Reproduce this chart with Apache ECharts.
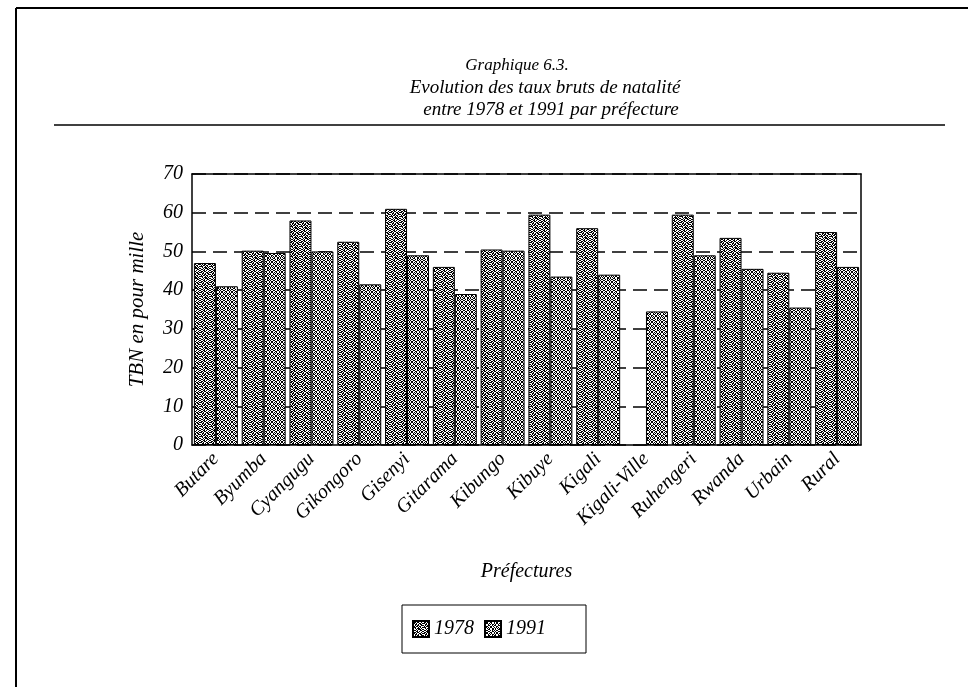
<!DOCTYPE html>
<html>
<head>
<meta charset="utf-8">
<script src="https://cdn.jsdelivr.net/npm/echarts@6/dist/echarts.min.js"></script>
<style>
  html, body { margin: 0; padding: 0; background: #fff; }
  #chart { width: 968px; height: 687px; }
</style>
</head>
<body>
<div id="chart"></div>
<script>
// Préfectures du Rwanda, taux bruts de natalité (TBN, pour mille)
const prefectures = ['Butare', 'Byumba', 'Cyangugu', 'Gikongoro', 'Gisenyi', 'Gitarama', 'Kibungo',
  'Kibuye', 'Kigali', 'Kigali-Ville', 'Ruhengeri', 'Rwanda', 'Urbain', 'Rural'];
const tbn1978 = [47, 50.2, 58, 52.5, 61, 46, 50.5, 59.5, 56, null, 59.5, 53.5, 44.5, 55];
const tbn1991 = [41, 49.6, 50, 41.5, 49, 39, 50.2, 43.5, 44, 34.5, 49, 45.5, 35.5, 46];
const seriesNames = ['1978', '1991'];
const yTicks = { min: 0, max: 70, step: 10 };

// Dithered fill tiles for the bars (1 = black pixel)
function makeTile(rows) {
  const c = document.createElement('canvas');
  c.width = rows[0].length; c.height = rows.length;
  const g = c.getContext('2d');
  g.fillStyle = '#fff'; g.fillRect(0, 0, c.width, c.height);
  g.fillStyle = '#000';
  rows.forEach((r, y) => {
    for (let x = 0; x < r.length; x++) if (r[x] === '1') g.fillRect(x, y, 1, 1);
  });
  return c;
}
const tileA = makeTile([
  '1001101001',
  '0110110010',
  '1101001101',
  '0011010110',
  '1010110011',
  '0101101100',
  '1110010101',
  '0010111010',
  '1001011101',
  '0110100110'
]);
const tileB = makeTile([
  '1001100110',
  '0110011001',
  '0110101001',
  '1001010110',
  '1001100101',
  '0110011010',
  '0101011001',
  '1010100110',
  '1001100110',
  '0110010101'
]);

const serif = 'Liberation Serif';
const chart = echarts.init(document.getElementById('chart'), null, { renderer: 'canvas' });

const titleStyle = { fontFamily: serif, fontStyle: 'italic', fontWeight: 'normal', fontSize: 19, color: '#000' };

chart.setOption({
  animation: false,
  backgroundColor: '#fff',
  title: [
    { text: 'Graphique 6.3.', left: 517, top: 57, textAlign: 'center', padding: 0,
      textStyle: Object.assign({}, titleStyle, { fontSize: 17 }) },
    { text: 'Evolution des taux bruts de natalité', left: 545, top: 78, textAlign: 'center', padding: 0, textStyle: titleStyle },
    { text: 'entre 1978 et 1991 par préfecture', left: 551, top: 100, textAlign: 'center', padding: 0, textStyle: titleStyle }
  ],
  graphic: [
    { type: 'line', shape: { x1: 16, y1: 8, x2: 16, y2: 687 }, style: { stroke: '#000', lineWidth: 2 } },
    { type: 'line', shape: { x1: 16, y1: 8, x2: 968, y2: 8 }, style: { stroke: '#000', lineWidth: 2 } },
    { type: 'line', shape: { x1: 54, y1: 125, x2: 945, y2: 125 }, style: { stroke: '#000', lineWidth: 1.5 } }
  ],
  legend: {
    data: seriesNames,
    left: 402,
    top: 605,
    orient: 'horizontal',
    padding: [14, 40, 14, 10],
    borderColor: '#000',
    borderWidth: 1,
    itemWidth: 16,
    itemHeight: 16,
    itemGap: 10,
    icon: 'rect',
    textStyle: { fontFamily: serif, fontStyle: 'italic', fontSize: 20, color: '#000', padding: [0, 0, 0, 0] }
  },
  grid: { left: 192, right: 107, top: 174, bottom: 242, containLabel: false },
  xAxis: [
    {
      type: 'category',
      data: prefectures,
      axisLine: { lineStyle: { color: '#000', width: 1.5 } },
      axisTick: { show: false },
      axisLabel: {
        interval: 0, rotate: 45, margin: 11,
        fontFamily: serif, fontStyle: 'italic', fontSize: 20, color: '#000'
      },
      name: 'Préfectures',
      nameLocation: 'middle',
      nameGap: 117,
      nameTextStyle: { fontFamily: serif, fontStyle: 'italic', fontSize: 20, color: '#000' }
    },
    {
      type: 'category',
      data: prefectures,
      position: 'top',
      axisLine: { onZero: false, lineStyle: { color: '#000', width: 1.5 } },
      axisTick: { show: false },
      axisLabel: { show: false }
    }
  ],
  yAxis: [
    {
      type: 'value',
      min: yTicks.min, max: yTicks.max, interval: yTicks.step,
      axisLine: { show: true, lineStyle: { color: '#000', width: 1.5 } },
      axisTick: { show: false },
      axisLabel: { margin: 9, fontFamily: serif, fontStyle: 'italic', fontSize: 20, color: '#000' },
      splitLine: { show: true, lineStyle: { color: '#000', width: 1.5, type: [14, 7] } },
      name: 'TBN en pour mille',
      nameLocation: 'middle',
      nameGap: 44,
      nameTextStyle: { fontFamily: serif, fontStyle: 'italic', fontSize: 21, color: '#000' }
    },
    {
      type: 'value',
      position: 'right',
      min: yTicks.min, max: yTicks.max, interval: yTicks.step,
      axisLine: { show: true, onZero: false, lineStyle: { color: '#000', width: 1.5 } },
      axisTick: { show: false },
      axisLabel: { show: false },
      splitLine: { show: false }
    }
  ],
  series: [
    {
      name: seriesNames[0], type: 'bar', data: tbn1978,
      barGap: '0%', barCategoryGap: '8%',
      itemStyle: { color: { image: tileA, repeat: 'repeat' }, borderColor: '#000', borderWidth: 1 }
    },
    {
      name: seriesNames[1], type: 'bar', data: tbn1991,
      barGap: '0%', barCategoryGap: '8%',
      itemStyle: { color: { image: tileB, repeat: 'repeat' }, borderColor: '#000', borderWidth: 1 }
    }
  ]
});
</script>
</body>
</html>
